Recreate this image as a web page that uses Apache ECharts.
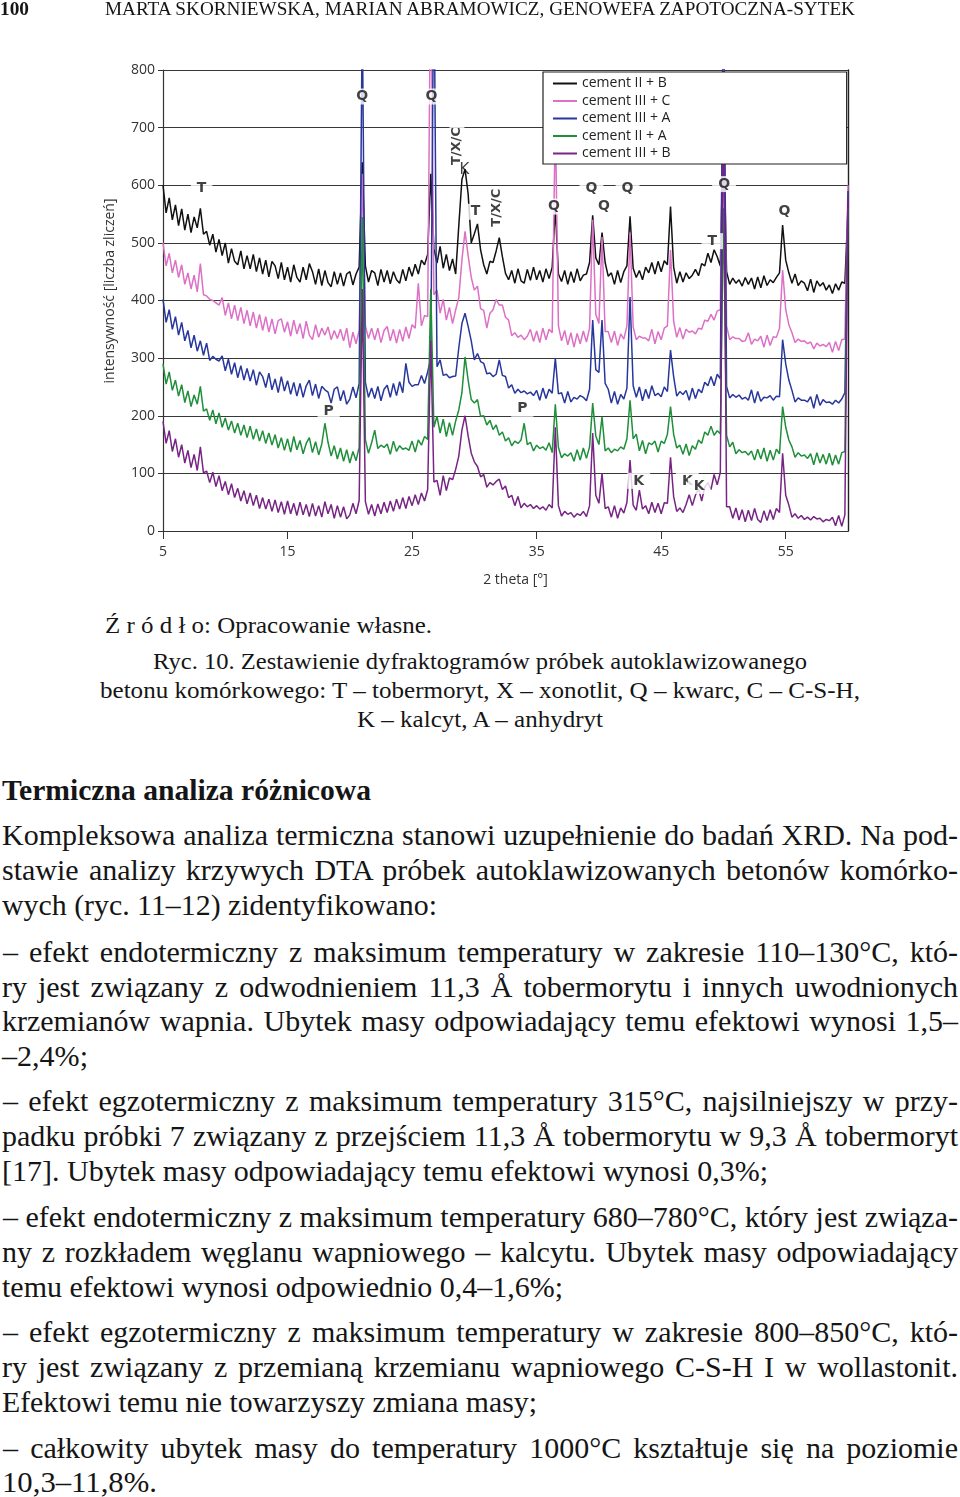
<!DOCTYPE html>
<html>
<head>
<meta charset="utf-8">
<title>Ryc. 10 - dyfraktogramy</title>
<script src="https://cdn.jsdelivr.net/npm/echarts@6.0.0/dist/echarts.min.js"></script>
<style>
  html, body { margin: 0; padding: 0; background: #fff; }
  #page { position: relative; width: 960px; height: 1497px; overflow: hidden; }
  #chart { position: absolute; left: 0; top: 0; width: 960px; height: 600px; }
  .ln {
    position: absolute;
    white-space: pre;
    font-family: "Liberation Serif", "Times New Roman", serif;
    color: #151515;
    line-height: 1;
    transform-origin: 0 50%;
  }
</style>
</head>
<body>
<div id="page"><div id="chart"></div></div>
<script>
// sampling grid of the diffractograms: 2 theta from 5 to 60, every 0.25 deg
const thetaStart = 5;
const thetaStep = 0.25;

const seriesNames = ["cement II + B", "cement III + C", "cement III + A", "cement II + A", "cement III + B"];

// intensities, 4 values per degree (5.00, 5.25, 5.50, 5.75, 6.00 ...)
const cementIIB = [
  600, 552, 578, 540, 566, 530, 559, 522,
  550, 518, 545, 526, 560, 515, 520, 496,
  515, 484, 506, 478, 500, 465, 490, 468,
  462, 486, 455, 478, 455, 480, 450, 474,
  446, 470, 441, 468, 460, 438, 466, 436,
  458, 432, 462, 440, 432, 458, 436, 464,
  450, 428, 455, 426, 452, 431, 424, 450,
  428, 448, 425, 446, 450, 427, 446, 458,
  640, 460, 432, 452, 448, 426, 454, 432,
  452, 429, 450, 436, 430, 454, 434, 458,
  442, 463, 446, 470, 462, 480, 620, 490,
  465, 494, 456, 480, 452, 472, 446, 530,
  610, 628, 585, 500, 516, 533, 488, 462,
  446, 468, 466, 486, 509, 476, 447, 436,
  452, 430, 455, 434, 430, 454, 435, 458,
  436, 452, 432, 455, 438, 458, 560, 446,
  433, 452, 428, 450, 431, 455, 434, 444,
  446, 466, 548, 474, 462, 518, 466, 442,
  448, 428, 452, 431, 450, 460, 546, 456,
  440, 452, 436, 458, 448, 466, 446, 468,
  450, 469, 462, 563, 458, 430, 450, 432,
  448, 438, 444, 454, 443, 464, 460, 482,
  466, 488, 476, 460, 700, 450, 428, 439,
  430, 436, 425, 440, 428, 439, 420, 441,
  422, 443, 426, 436, 431, 440, 448, 531,
  470, 448, 430, 446, 426, 434, 430, 417,
  437, 414, 434, 425, 431, 418, 427, 412,
  429, 418, 432, 430,
  560
];

const cementIIIC = [
  500, 460, 482, 448, 470, 440, 462, 428,
  448, 420, 444, 415, 464, 410, 408, 402,
  400, 396, 392, 405, 374, 396, 368, 392,
  365, 388, 360, 383, 356, 380, 352, 376,
  348, 372, 345, 368, 342, 365, 368, 345,
  363, 338, 366, 342, 360, 334, 364, 340,
  332, 358, 336, 352, 340, 354, 332, 348,
  334, 350, 330, 352, 318, 345, 325, 348,
  620, 356, 334, 352, 332, 352, 327, 348,
  355, 330, 350, 326, 350, 329, 354, 334,
  358, 352, 430, 356, 374, 372, 1000, 410,
  418, 378, 402, 366, 388, 360, 384, 405,
  470, 520, 478, 440, 418, 425, 386, 383,
  352, 378, 384, 402, 392, 392, 371, 366,
  339, 344, 336, 340, 332, 338, 350, 329,
  347, 327, 352, 332, 350, 344, 720, 356,
  330, 348, 323, 344, 319, 343, 325, 347,
  328, 352, 540, 376, 360, 510, 346, 346,
  327, 347, 322, 342, 333, 356, 518, 354,
  332, 338, 335, 335, 330, 350, 325, 346,
  332, 352, 356, 488, 364, 336, 353, 333,
  350, 345, 347, 342, 352, 350, 366, 364,
  376, 366, 382, 384, 900, 356, 332, 337,
  334, 334, 329, 330, 344, 324, 333, 330,
  338, 319, 340, 322, 337, 336, 352, 453,
  384, 358, 344, 327, 333, 329, 330, 325,
  328, 316, 326, 321, 324, 320, 327, 310,
  329, 313, 332, 333,
  600
];

const cementIIIA = [
  402, 362, 384, 350, 372, 340, 362, 330,
  348, 318, 340, 312, 330, 305, 326, 296,
  303, 298, 295, 304, 278, 298, 272, 292,
  266, 287, 262, 282, 260, 280, 253, 276,
  268, 249, 274, 245, 264, 240, 268, 243,
  261, 237, 258, 234, 256, 232, 252, 262,
  235, 255, 230, 251, 245, 241, 222, 246,
  250, 226, 244, 220, 229, 250, 231, 256,
  900, 258, 232, 248, 230, 251, 226, 246,
  253, 232, 256, 235, 259, 240, 291, 258,
  251, 254, 254, 270, 256, 276, 300, 1000,
  285, 297, 270, 272, 266, 268, 269, 318,
  360, 378, 355, 330, 297, 308, 294, 291,
  273, 274, 268, 272, 297, 270, 268, 248,
  254, 239, 246, 240, 243, 238, 241, 235,
  244, 227, 248, 230, 246, 239, 300, 238,
  240, 222, 242, 224, 232, 229, 235, 232,
  226, 246, 366, 280, 275, 366, 256, 246,
  222, 242, 220, 237, 229, 248, 406, 252,
  232, 250, 226, 246, 230, 252, 235, 239,
  233, 250, 242, 314, 268, 234, 242, 237,
  244, 227, 248, 230, 246, 240, 258, 252,
  268, 252, 272, 264, 1000, 251, 231, 237,
  232, 236, 229, 232, 227, 245, 222, 242,
  225, 232, 231, 235, 227, 234, 233, 332,
  290, 262, 244, 224, 231, 227, 227, 224,
  233, 213, 237, 218, 228, 223, 224, 220,
  227, 222, 229, 240,
  590
];

const cementIIA = [
  290, 255, 276, 244, 262, 234, 254, 223,
  243, 216, 236, 220, 251, 208, 212, 192,
  210, 186, 205, 180, 196, 175, 191, 170,
  187, 166, 184, 162, 182, 159, 177, 156,
  174, 152, 170, 149, 167, 144, 162, 140,
  160, 137, 164, 141, 157, 134, 152, 162,
  136, 155, 132, 151, 187, 154, 130, 148,
  125, 144, 121, 141, 118, 138, 122, 145,
  545, 158, 135, 153, 175, 143, 149, 145,
  151, 133, 156, 138, 148, 142, 144, 140,
  156, 137, 158, 149, 164, 159, 420, 180,
  199, 170, 194, 164, 188, 166, 191, 210,
  240, 302, 262, 228, 222, 228, 199, 200,
  184, 192, 176, 184, 166, 172, 156, 162,
  148, 156, 152, 158, 187, 150, 154, 139,
  149, 143, 146, 140, 153, 136, 220, 145,
  127, 134, 130, 136, 121, 141, 123, 144,
  126, 146, 222, 165, 150, 198, 139, 144,
  136, 142, 139, 146, 142, 160, 227, 160,
  168, 139, 157, 134, 153, 150, 156, 137,
  156, 152, 168, 216, 168, 144, 149, 133,
  151, 131, 148, 142, 158, 152, 172, 166,
  182, 166, 174, 169, 560, 166, 146, 154,
  134, 141, 136, 138, 132, 139, 123, 142,
  125, 144, 121, 140, 123, 142, 134, 216,
  180, 158, 146, 128, 136, 130, 132, 126,
  134, 115, 136, 118, 133, 116, 135, 114,
  132, 116, 136, 138,
  560
];

const cementIIIB = [
  190, 152, 174, 138, 160, 128, 150, 118,
  140, 110, 133, 105, 146, 101, 104, 84,
  102, 77, 96, 70, 86, 63, 82, 58,
  74, 52, 70, 47, 66, 44, 62, 39,
  58, 38, 55, 34, 54, 32, 51, 29,
  52, 30, 48, 27, 50, 28, 46, 25,
  48, 26, 44, 24, 51, 30, 46, 22,
  44, 24, 42, 21, 28, 48, 30, 53,
  420, 51, 29, 46, 26, 47, 30, 50,
  32, 52, 34, 55, 38, 58, 39, 60,
  44, 63, 46, 66, 52, 72, 330, 85,
  88, 62, 96, 70, 92, 89, 107, 130,
  175, 200, 165, 135, 120, 112, 94, 98,
  76, 84, 80, 86, 90, 72, 78, 58,
  62, 44, 60, 40, 48, 42, 46, 39,
  44, 38, 42, 36, 46, 40, 180, 44,
  26, 34, 29, 32, 24, 30, 27, 34,
  25, 44, 170, 62, 48, 100, 39, 42,
  24, 44, 22, 40, 31, 50, 123, 45,
  36, 71, 38, 44, 30, 50, 32, 48,
  30, 49, 48, 128, 60, 34, 40, 32,
  46, 63, 44, 62, 74, 52, 76, 84,
  72, 98, 80, 102, 760, 42, 42, 22,
  40, 19, 37, 16, 36, 18, 39, 20,
  15, 35, 18, 37, 20, 39, 32, 135,
  62, 45, 24, 30, 22, 27, 20, 24,
  19, 25, 21, 22, 16, 20, 18, 24,
  9, 27, 8, 28,
  580
];

// phase marks written on the plot
const markText = ["T", "Q", "Q", "T/X/C", "K", "T", "T/X/C", "Q", "Q", "Q", "Q", "Q", "T", "Q", "P", "P", "K", "K", "K"];
const markTheta = [8.1, 21.0, 26.55, 28.6, 29.2, 30.1, 31.8, 36.4, 39.4, 40.4, 42.3, 50.05, 49.1, 54.9, 18.3, 33.85, 43.2, 47.1, 48.05];
const markIntensity = [594, 754, 754, 668, 627, 554, 561, 563, 594, 563, 594, 602, 503, 554, 207, 212, 87, 87, 78];

const xTicks = [5, 15, 25, 35, 45, 55];

const colors = ["#111111", "#dc70c6", "#27379c", "#1f8f3a", "#772484"];
const allValues = [cementIIB, cementIIIC, cementIIIA, cementIIA, cementIIIB];

const chart = echarts.init(document.getElementById("chart"));

const lineSeries = allValues.map((vals, k) => ({
  name: seriesNames[k],
  type: "line",
  data: vals.map((v, i) => [thetaStart + i * thetaStep, v]),
  color: colors[k],
  showSymbol: false,
  symbol: "none",
  clip: true,
  silent: true,
  lineStyle: { color: colors[k], width: 1.5 },
  emphasis: { disabled: true },
}));

const markSeries = {
  type: "scatter",
  symbolSize: 0,
  silent: true,
  z: 3,
  data: markText.map((t, i) => ({
    name: t,
    value: [markTheta[i], markIntensity[i]],
    label: t === "T/X/C"
      ? { rotate: 90, fontSize: 13, padding: [1, 2] }
      : i === 4
        ? { fontWeight: "normal", fontSize: 15, backgroundColor: "transparent", padding: 0 }
        : {},
  })),
  label: {
    show: true,
    position: "inside",
    formatter: "{b}",
    fontFamily: "DejaVu Sans",
    fontWeight: "bold",
    fontSize: 14,
    color: "#111",
    backgroundColor: "#fff",
    padding: [1, 6],
  },
};

const option = {
  animation: false,
  grid: { left: 163, right: 112, top: 70, bottom: 69 },
  legend: {
    data: seriesNames,
    orient: "vertical",
    left: 543,
    top: 72,
    backgroundColor: "#fff",
    borderColor: "#222",
    borderWidth: 1.2,
    borderRadius: 0,
    padding: [4, 176, 3, 10],
    itemWidth: 24,
    itemHeight: 2,
    itemGap: 2.5,
    icon: "rect",
    selectedMode: false,
    textStyle: { fontFamily: "Open Sans", fontSize: 14, color: "#222", lineHeight: 15 },
  },
  xAxis: {
    type: "value",
    min: 5,
    max: 60,
    interval: 10,
    name: "2 theta [°]",
    nameLocation: "middle",
    nameGap: 42,
    nameTextStyle: { fontFamily: "Open Sans", fontSize: 14, color: "#333", padding: [0, 0, 0, 20] },
    axisLine: { lineStyle: { color: "#333", width: 1.2 } },
    axisTick: { length: 8, lineStyle: { color: "#333" } },
    axisLabel: {
      margin: 14,
      showMaxLabel: false,
      fontFamily: "Open Sans",
      fontSize: 14,
      color: "#333",
      formatter: (v) => (xTicks.includes(v) ? String(v) : ""),
    },
    splitLine: { show: false },
  },
  yAxis: [
    {
      type: "value",
      min: 0,
      max: 800,
      interval: 100,
      name: "intensywność [liczba zliczeń]",
      nameLocation: "middle",
      nameGap: 46,
      nameRotate: 90,
      nameTextStyle: { fontFamily: "Open Sans", fontSize: 14, color: "#333", padding: [0, 0, 0, 19] },
      axisLine: { show: true, lineStyle: { color: "#333", width: 1.2 } },
      axisTick: { show: true, length: 5, lineStyle: { color: "#333" } },
      axisLabel: { margin: 8, fontFamily: "Open Sans", fontSize: 14, color: "#333" },
      splitLine: { show: true, lineStyle: { color: "#383838", width: 1.2 } },
    },
    {
      type: "value",
      position: "right",
      min: 0,
      max: 800,
      interval: 100,
      axisLine: { show: true, lineStyle: { color: "#222", width: 1.4 } },
      axisTick: { show: false },
      axisLabel: { show: false },
      splitLine: { show: false },
    },
  ],
  series: [...lineSeries, markSeries],
};

chart.setOption(option);

// ---- page text (header, caption, section) ----
const page = document.getElementById("page");

// [text, left, vertical centre, target width, font size, weight, mode]
// mode "j" = justified line, "f" = fitted to its width
const textLines = [
  ["100", 0, 9, 29, 19, "bold", "f"],
  ["MARTA SKORNIEWSKA, MARIAN ABRAMOWICZ, GENOWEFA ZAPOTOCZNA-SYTEK", 105, 9, 750, 19, "normal", "f"],
  ["Ź r ó d ł o: Opracowanie własne.", 105, 626, 327, 24, "normal", "f"],
  ["Ryc. 10. Zestawienie dyfraktogramów próbek autoklawizowanego", 153, 662, 654, 24, "normal", "f"],
  ["betonu komórkowego: T – tobermoryt, X – xonotlit, Q – kwarc, C – C-S-H,", 100, 691, 760, 24, "normal", "f"],
  ["K – kalcyt, A – anhydryt", 357, 720, 246, 24, "normal", "f"],
  ["Termiczna analiza różnicowa", 2, 791, 369, 30, "bold", "f"],
  ["Kompleksowa analiza termiczna stanowi uzupełnienie do badań XRD. Na pod-", 2, 836, 956, 30, "normal", "j"],
  ["stawie analizy krzywych DTA próbek autoklawizowanych betonów komórko-", 2, 871, 956, 30, "normal", "j"],
  ["wych (ryc. 11–12) zidentyfikowano:", 2, 906, 435, 30, "normal", "f"],
  ["– efekt endotermiczny z maksimum temperatury w zakresie 110–130°C, któ-", 3, 953, 955, 30, "normal", "j"],
  ["ry jest związany z odwodnieniem 11,3 Å tobermorytu i innych uwodnionych", 2, 988, 956, 30, "normal", "j"],
  ["krzemianów wapnia. Ubytek masy odpowiadający temu efektowi wynosi 1,5–", 2, 1022, 956, 30, "normal", "j"],
  ["–2,4%;", 2, 1057, 86, 30, "normal", "f"],
  ["– efekt egzotermiczny z maksimum temperatury 315°C, najsilniejszy w przy-", 3, 1102, 955, 30, "normal", "j"],
  ["padku próbki 7 związany z przejściem 11,3 Å tobermorytu w 9,3 Å tobermoryt", 2, 1137, 956, 30, "normal", "j"],
  ["[17]. Ubytek masy odpowiadający temu efektowi wynosi 0,3%;", 2, 1172, 766, 30, "normal", "f"],
  ["– efekt endotermiczny z maksimum temperatury 680–780°C, który jest związa-", 3, 1218, 955, 30, "normal", "j"],
  ["ny z rozkładem węglanu wapniowego – kalcytu. Ubytek masy odpowiadający", 2, 1253, 956, 30, "normal", "j"],
  ["temu efektowi wynosi odpowiednio 0,4–1,6%;", 2, 1288, 561, 30, "normal", "f"],
  ["– efekt egzotermiczny z maksimum temperatury w zakresie 800–850°C, któ-", 3, 1333, 955, 30, "normal", "j"],
  ["ry jest związany z przemianą krzemianu wapniowego C-S-H I w wollastonit.", 2, 1368, 956, 30, "normal", "j"],
  ["Efektowi temu nie towarzyszy zmiana masy;", 2, 1403, 535, 30, "normal", "f"],
  ["– całkowity ubytek masy do temperatury 1000°C kształtuje się na poziomie", 3, 1449, 955, 30, "normal", "j"],
  ["10,3–11,8%.", 2, 1483, 155, 30, "normal", "f"],
];

textLines.forEach(([txt, x, yc, w, size, weight, mode]) => {
  const el = document.createElement("div");
  el.className = "ln";
  el.textContent = txt;
  el.style.fontSize = size + "px";
  el.style.fontWeight = weight;
  el.style.left = x + "px";
  el.style.top = (yc - size * 0.55) + "px";
  page.appendChild(el);
  const nat = el.getBoundingClientRect().width;
  if (mode === "j") {
    const gaps = txt.split(" ").length - 1;
    const extra = (w - nat) / gaps;
    if (extra >= 0) el.style.wordSpacing = extra + "px";
    else el.style.transform = "scaleX(" + (w / nat) + ")";
  } else {
    el.style.transform = "scaleX(" + (w / nat) + ")";
  }
});
</script>
</body>
</html>
